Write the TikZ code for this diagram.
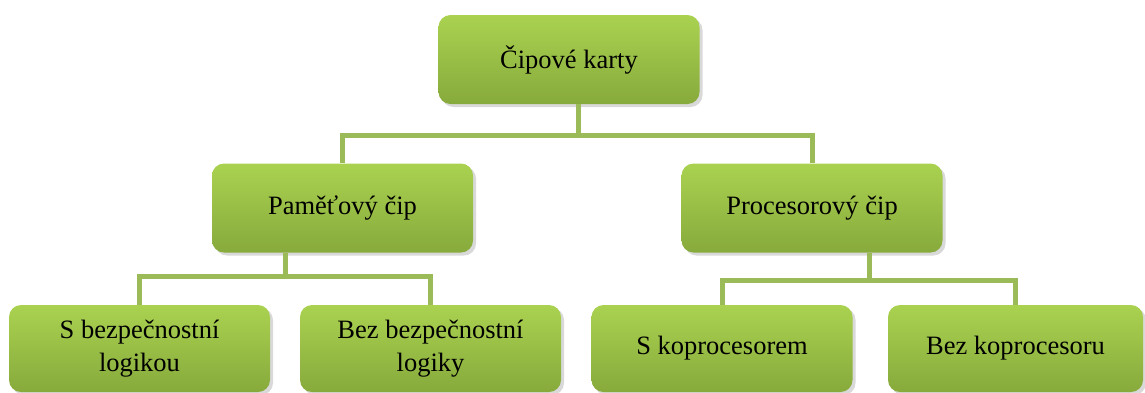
\documentclass[tikz,border=0pt]{standalone}
\usepackage{fontspec}
\setmainfont{Liberation Serif}
\newfontfamily\kartafont{Liberation Serif}
\usetikzlibrary{shadows}
\definecolor{kartahore}{RGB}{170,210,80}
\definecolor{kartadole}{RGB}{135,170,60}
\definecolor{spojka}{RGB}{155,187,89}
\begin{document}
\begin{tikzpicture}[x=1pt,y=-1pt,
    karta/.style={rectangle,rounded corners=12pt,top color=kartahore,bottom color=kartadole,
      drop shadow={shadow xshift=3pt,shadow yshift=-3pt,opacity=.3},
      minimum width=261pt,minimum height=89pt,inner sep=0pt,align=center,
      font=\kartafont\fontsize{26.5}{33}\selectfont},
    spoj/.style={draw=spojka,line width=5pt,line join=miter}]
  \useasboundingbox (0,0) rectangle (1145,392);
  \node[karta] (cipove) at (569,59.5) {Čipové karty};
  \node[karta] (pamet) at (342.5,208) {Paměťový čip};
  \node[karta] (procesor) at (812,208) {Procesorový čip};
  \node[karta,minimum height=87pt] (sbezp) at (139.5,348.5) {S bezpečnostní\\logikou};
  \node[karta,minimum height=87pt] (bezbezp) at (430.5,348.5) {Bez bezpečnostní\\logiky};
  \node[karta,minimum height=87pt] (skopr) at (722,348.5) {S koprocesorem};
  \node[karta,minimum height=87pt,minimum width=255pt] (bezkopr) at (1015.5,348.5) {Bez koprocesoru};
  \coordinate (uzel) at (578,135);
  \coordinate (uzelP) at (285,276);
  \coordinate (uzelR) at (869,280);
  \begin{scope}[spoj]
    \draw (uzel) -- (uzel |- cipove.south);
    \draw (pamet.north) |- (uzel) -| (procesor.north);
    \draw (uzelP) -- (uzelP |- pamet.south);
    \draw (sbezp.north) |- (uzelP) -| (bezbezp.north);
    \draw (uzelR) -- (uzelR |- procesor.south);
    \draw (skopr.north) |- (uzelR) -| (bezkopr.north);
  \end{scope}
\end{tikzpicture}
\end{document}
